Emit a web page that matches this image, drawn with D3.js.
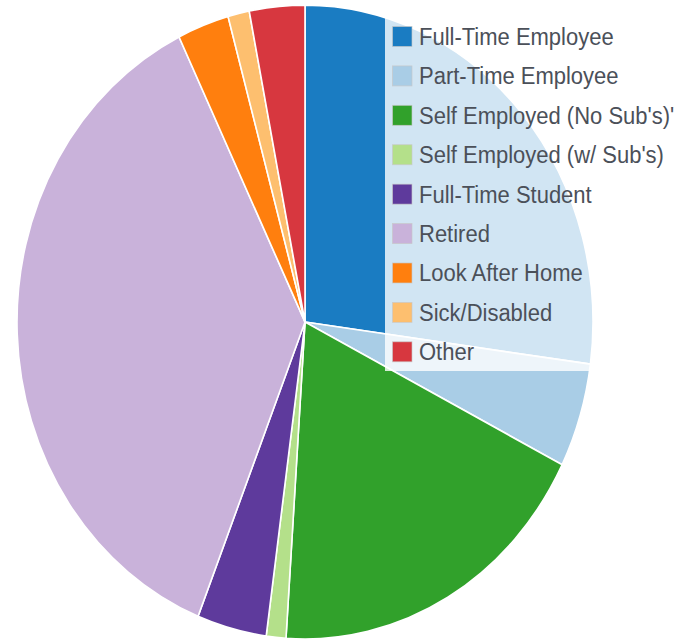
<!DOCTYPE html>
<html>
<head>
<meta charset="utf-8">
<script src="https://cdn.jsdelivr.net/npm/d3@7"></script>
<style>
  html, body { margin: 0; padding: 0; background: #fff; }
  svg { display: block; }
</style>
</head>
<body>
<svg id="chart" width="680" height="640"></svg>
<script>
// Employment status shares (percent)
const categories = [
  "Full-Time Employee",
  "Part-Time Employee",
  "Self Employed (No Sub's)'",
  "Self Employed (w/ Sub's)",
  "Full-Time Student",
  "Retired",
  "Look After Home",
  "Sick/Disabled",
  "Other"
];
const shares = [27.1, 5.3, 18.6, 1.1, 3.9, 36.7, 2.9, 1.2, 3.1];
const colors = [
  "#1a7cc2", "#a9cde6", "#31a12b", "#b4e08a",
  "#5e3a9c", "#c9b2da", "#ff7f0e", "#fdbf6f", "#d7373f"
];

const svg = d3.select("#chart");

// Pie geometry: drawn as a circle, stretched vertically into an ellipse
const cx = 305, cy = 322, rx = 288, ry = 317;
const k = ry / rx;

const color = d3.scaleOrdinal().domain(categories).range(colors);

const pie = d3.pie().sort(null).value(d => d.value);
const arc = d3.arc().innerRadius(0).outerRadius(rx);

const data = categories.map((c, i) => ({ name: c, value: shares[i] }));

const pieG = svg.append("g")
  .attr("transform", `translate(${cx},${cy}) scale(1,${k})`);

pieG.selectAll("path")
  .data(pie(data))
  .join("path")
  .attr("d", arc)
  .attr("fill", d => color(d.data.name))
  .attr("stroke", "#fff")
  .attr("stroke-width", 1.6)
  .attr("stroke-linejoin", "round");

// Legend panel laid over the upper-right part of the pie
const legendX = 385, legendTop = 8, legendBottom = 371;
const legend = svg.append("g");

legend.append("rect")
  .attr("x", legendX)
  .attr("y", legendTop)
  .attr("width", 680 - legendX)
  .attr("height", legendBottom - legendTop)
  .attr("fill", "#fff")
  .attr("fill-opacity", 0.8);

const rowY = d3.scalePoint()
  .domain(categories)
  .range([36.5, 351.8]);

const items = legend.selectAll("g.item")
  .data(categories)
  .join("g")
  .attr("class", "item")
  .attr("transform", d => `translate(0,${rowY(d)})`);

items.append("rect")
  .attr("x", 392.5)
  .attr("y", -10)
  .attr("width", 19.5)
  .attr("height", 20)
  .attr("fill", d => color(d))
  .attr("stroke", "rgba(200,200,200,0.8)")
  .attr("stroke-width", 0.8);

items.append("text")
  .attr("transform", "translate(419,0) scale(1,1.07)")
  .attr("dy", "0.36em")
  .attr("font-family", "'Liberation Sans', Arial, sans-serif")
  .attr("font-size", 22)
  .attr("fill", "#4b5059")
  .text(d => d);
</script>
</body>
</html>
